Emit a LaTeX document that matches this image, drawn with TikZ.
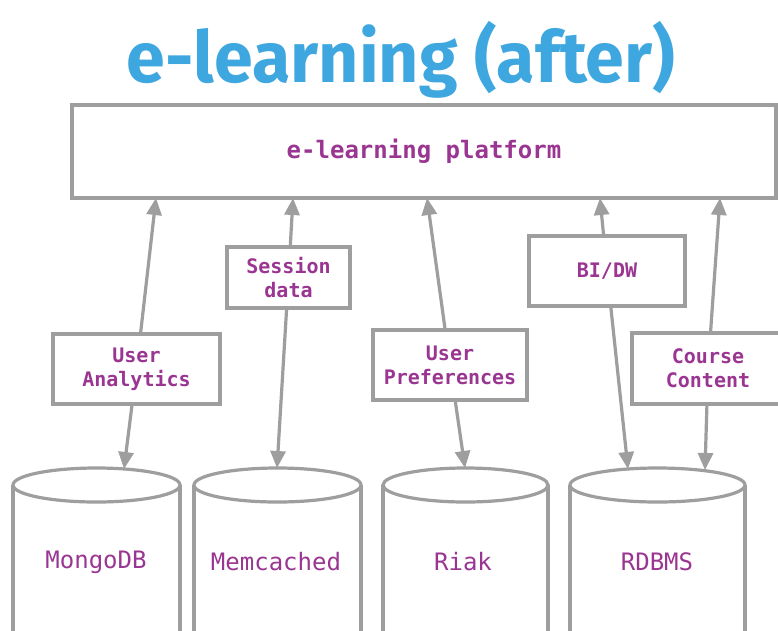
\documentclass[tikz,border=0pt]{standalone}
\usepackage{fontspec}
\usepackage{graphicx}
\setmonofont{DejaVu Sans Mono}
\newfontfamily\titlefont{Fira Sans}
\usetikzlibrary{arrows.meta}
\definecolor{lgray}{HTML}{9E9E9E}
\definecolor{lbl}{HTML}{9A3592}
\definecolor{ttl}{HTML}{3FA7E0}
\begin{document}
\begin{tikzpicture}[x=1pt,y=-1pt,
 box/.style={draw=lgray,line width=3.2pt,fill=white,align=center,text=lbl,
   font=\ttfamily\bfseries\fontsize{20}{24}\selectfont,inner sep=0pt},
 arr/.style={draw=lgray,line width=3.2pt,-{Triangle[length=17pt,width=15pt]}},
 cyl/.style={draw=lgray,line width=3.2pt,fill=white},
 dbl/.style={text=lbl,font=\ttfamily\fontsize{24}{28}\selectfont,inner sep=0pt}]
\clip (0,0) rectangle (778,630);
\fill[white] (0,0) rectangle (778,630);

% title
\node[anchor=north,inner sep=0pt,text=ttl] (title) at (401,21)
  {\resizebox*{548pt}{77pt}{\titlefont\bfseries e-learning (after)}};

% platform
\node[box,minimum width=704pt,minimum height=93pt,
  font=\ttfamily\bfseries\fontsize{24}{28}\selectfont] (plat) at (424,151.5) {e-learning platform};

% databases
\foreach \cx/\rx in {96.5/83.5, 277.5/83.5, 465.5/82.5, 657.5/87.5} {
  \draw[cyl] (\cx-\rx,485) -- (\cx-\rx,700) -- (\cx+\rx,700) -- (\cx+\rx,485);
  \draw[cyl] (\cx,485) ellipse[x radius=\rx, y radius=17];
}
\node[dbl] (mongo) at (96,562) {MongoDB};
\node[dbl] (memc) at (276,562) {Memcached};
\node[dbl] (riak) at (463,562) {Riak};
\node[dbl] (rdbms) at (657,562) {RDBMS};

% labels
\node[box,minimum width=167pt,minimum height=70pt] (ua) at (136.5,369) {User\\Analytics};
\node[box,minimum width=123pt,minimum height=61pt] (sd) at (288.5,277.5) {Session\\data};
\node[box,minimum width=154pt,minimum height=70pt] (up) at (450,365) {User\\Preferences};
\node[box,minimum width=156pt,minimum height=70pt] (bi) at (607,271) {BI/DW};
\node[box,minimum width=152pt,minimum height=71pt] (cc) at (708,368.5) {Course\\Content};

% attachment points
\coordinate (p1) at (156,198);
\coordinate (p2) at (293,198);
\coordinate (p3) at (427,198);
\coordinate (p4) at (600,198);
\coordinate (p5) at (720,198);
\coordinate (m1) at (124,469);
\coordinate (m2) at (277,468);
\coordinate (m3) at (465,468);
\coordinate (m4) at (628,469);
\coordinate (m5) at (705,470);

% connectors
\draw[arr] (ua) -- (p1);
\draw[arr] (ua) -- (m1);
\draw[arr] (sd) -- (p2);
\draw[arr] (sd) -- (m2);
\draw[arr] (up) -- (p3);
\draw[arr] (up) -- (m3);
\draw[arr] (bi) -- (p4);
\draw[arr] (bi) -- (m4);
\draw[arr] (cc) -- (p5);
\draw[arr] (cc) -- (m5);
\end{tikzpicture}
\end{document}
